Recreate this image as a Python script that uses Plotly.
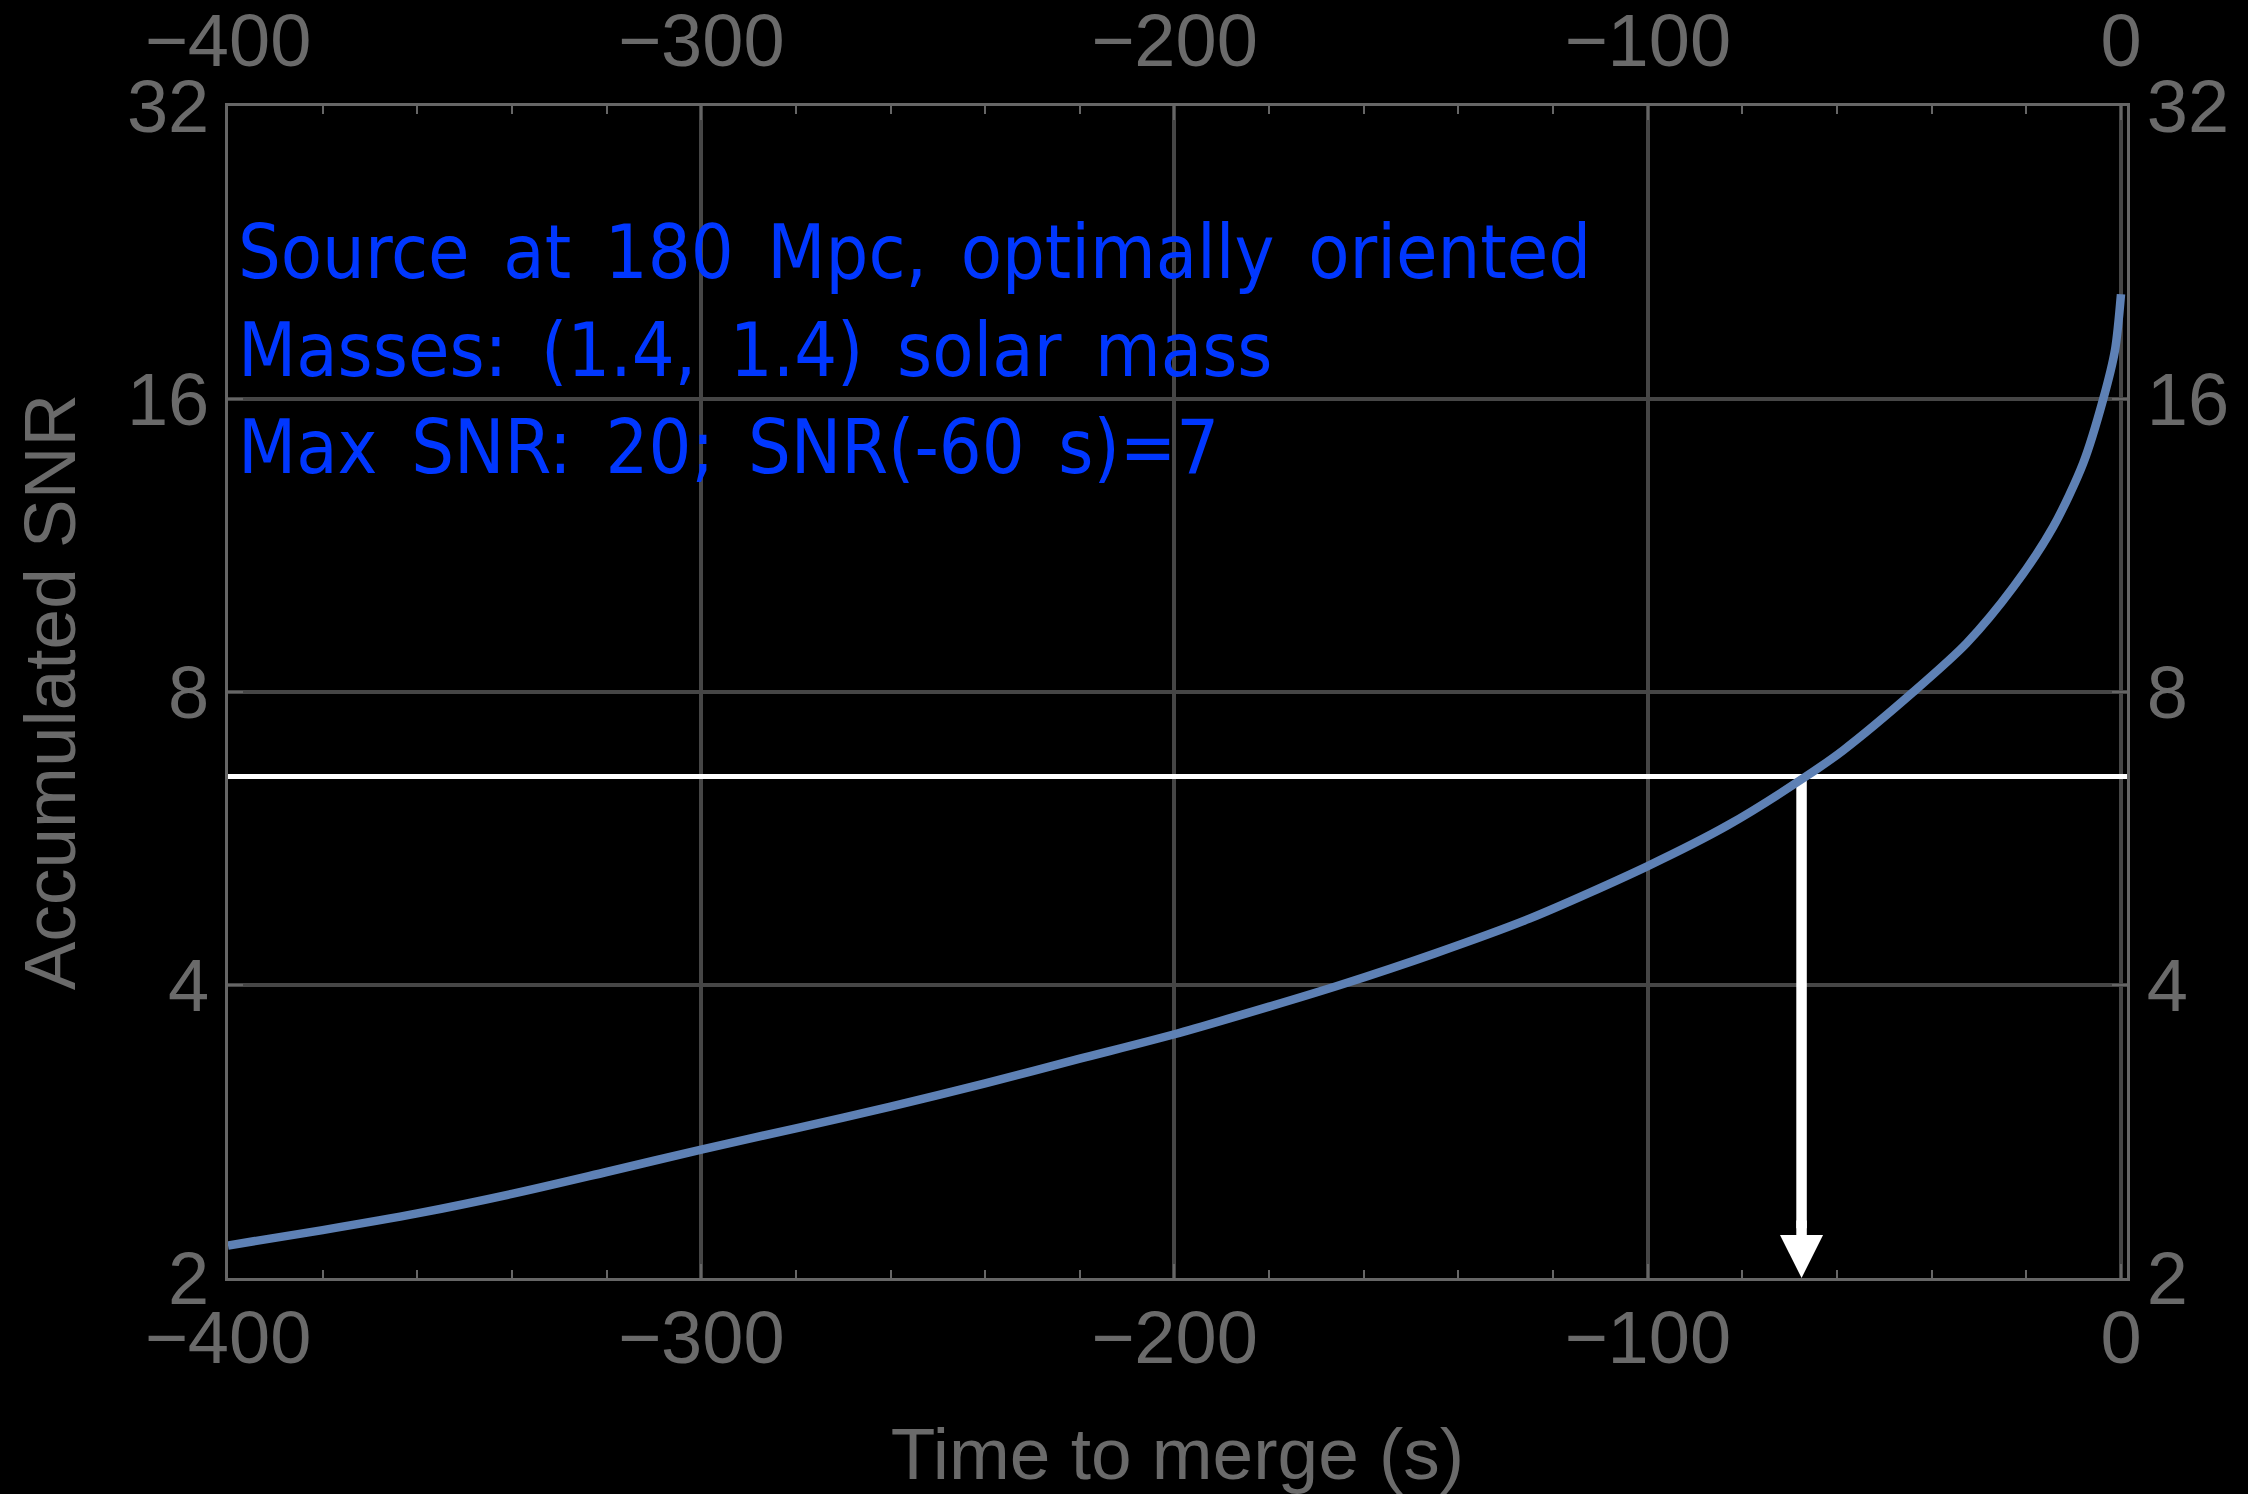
import math
import plotly.graph_objects as go

# ---- data ----
time_s = [-400, -380, -360, -340, -320, -300, -280, -260, -240, -220, -200,
          -180, -165, -145, -125, -100, -83, -67, -58.7, -43.9, -32.6,
          -22.7, -14.3, -8, -3.75, -1.27, 0]
snr = [2.16, 2.24, 2.33, 2.44, 2.57, 2.71, 2.85, 3.00, 3.17, 3.36, 3.56,
       3.80, 4.00, 4.31, 4.68, 5.30, 5.84, 6.53, 6.97, 8.00, 8.98,
       10.26, 11.83, 13.74, 16.0, 17.96, 20.5]

threshold_snr = 6.55
cross_time = -67.5
x_range = [-400, 1.27]
y_min, y_max = 2, 32

x_ticks = [-400, -300, -200, -100, 0]
y_ticks = [2, 4, 8, 16, 32]
y_ticktext = ["2", "4", "8", "16", "32"]

info_lines = ["Source at 180 Mpc, optimally oriented",
              "Masses: (1.4, 1.4) solar mass",
              "Max SNR: 20; SNR(-60 s)=7"]

x_title = "Time to merge (s)"
y_title = "Accumulated SNR"

# ---- styles ----
GRAY = "#6a6a6a"
FRAME = "#666666"
GRID = "#464646"
CURVE = "#5E81B5"
TICKFONT = dict(family="Liberation Sans, Arial, sans-serif", size=74, color=GRAY)
TITLEFONT = dict(family="Liberation Sans, Arial, sans-serif", size=73, color=GRAY)

fig = go.Figure()

# threshold line
fig.add_trace(go.Scatter(x=[x_range[0], x_range[1]], y=[threshold_snr, threshold_snr],
                         mode="lines", line=dict(color="white", width=5),
                         hoverinfo="skip", showlegend=False))
# arrow shaft
fig.add_trace(go.Scatter(x=[cross_time, cross_time], y=[threshold_snr, 2.25],
                         mode="lines", line=dict(color="white", width=10.5),
                         hoverinfo="skip", showlegend=False))
# SNR curve
fig.add_trace(go.Scatter(x=time_s, y=snr, mode="lines",
                         line=dict(color=CURVE, width=8.5, shape="spline", smoothing=0.8),
                         hoverinfo="skip", showlegend=False))
# invisible trace for mirror axes
fig.add_trace(go.Scatter(x=[x_range[0]], y=[y_min], xaxis="x2", yaxis="y2",
                         mode="markers", marker=dict(opacity=0),
                         hoverinfo="skip", showlegend=False))

# arrow head
fig.add_annotation(x=cross_time, y=math.log10(y_min), ax=cross_time, ay=math.log10(2.3),
                   xref="x", yref="y", axref="x", ayref="y", text="",
                   showarrow=True, arrowhead=2, arrowsize=0.82, arrowwidth=10.5,
                   arrowcolor="white", standoff=0)

fig.add_annotation(x=0.004, y=0.915, xref="paper", yref="paper",
                   xanchor="left", yanchor="top", align="left", showarrow=False,
                   text="<br>".join(l.replace(" ", "\u2002") for l in info_lines),
                   font=dict(family="DejaVu Sans Condensed, Liberation Sans Narrow, DejaVu Sans, sans-serif",
                             size=75, color="rgb(0,55,255)"))

common_x = dict(range=x_range, tickmode="array", tickvals=x_ticks,
                ticks="inside", ticklen=14, tickwidth=2, tickcolor=FRAME,
                showline=True, linecolor=FRAME, linewidth=3, automargin=False,
                tickfont=TICKFONT, zeroline=False,
                minor=dict(tick0=0, dtick=20, ticks="inside", ticklen=8,
                           tickwidth=2, tickcolor=FRAME, showgrid=False))
common_y = dict(type="log", range=[math.log10(y_min), math.log10(y_max)],
                tickmode="array", tickvals=y_ticks, ticktext=y_ticktext,
                ticks="inside", ticklen=15, tickwidth=2, tickcolor=FRAME,
                showline=True, linecolor=FRAME, linewidth=3, automargin=False,
                tickfont=TICKFONT, zeroline=False)

fig.update_layout(
    width=2248, height=1494,
    margin=dict(l=228, r=121, t=106, b=216, pad=0, autoexpand=False),
    paper_bgcolor="black", plot_bgcolor="black",
    showlegend=False,
    xaxis=dict(**common_x, side="bottom", showgrid=True, gridcolor=GRID, gridwidth=4,
               ticklabelstandoff=-7,
               title=dict(text=x_title, standoff=64, font=TITLEFONT)),
    xaxis2=dict(**common_x, side="top", overlaying="x", showgrid=False,
                ticklabelstandoff=7),
    yaxis=dict(**common_y, side="left", showgrid=True, gridcolor=GRID, gridwidth=4,
               ticklabelstandoff=1,
               title=dict(text=y_title, standoff=28, font=TITLEFONT)),
    yaxis2=dict(**common_y, side="right", overlaying="y", showgrid=False,
                ticklabelstandoff=2),
)

fig.write_html("out.html")
